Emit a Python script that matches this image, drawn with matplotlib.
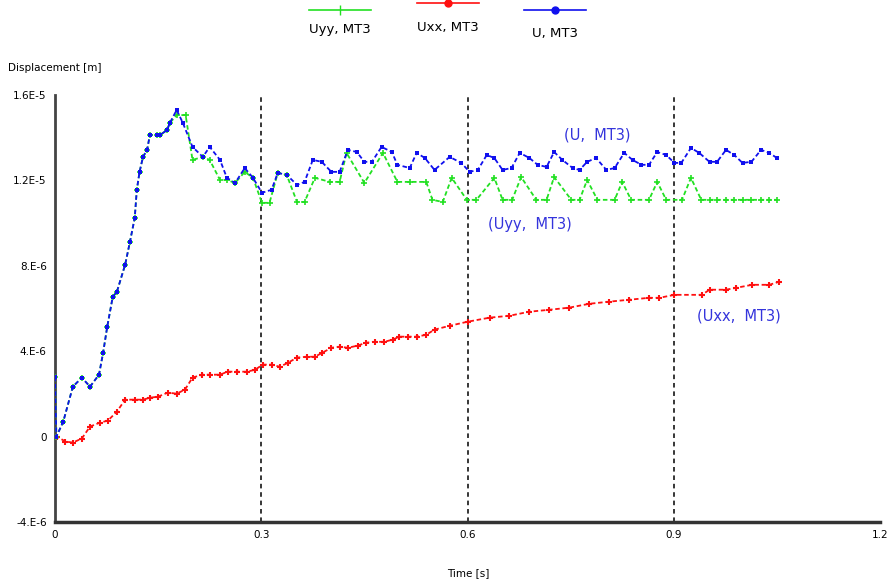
import numpy as np
import matplotlib
matplotlib.use("Agg")
import matplotlib.pyplot as plt
from matplotlib.lines import Line2D

# values in units of 1e-6 m
t_u = [0, 0.002, 0.012, 0.026, 0.039, 0.051, 0.064, 0.070, 0.076, 0.084, 0.090, 0.102, 0.109,
       0.116, 0.119, 0.123, 0.128, 0.134, 0.138, 0.148, 0.153, 0.163, 0.167, 0.177, 0.186,
       0.200, 0.215, 0.225, 0.240, 0.250, 0.262, 0.276, 0.288, 0.301, 0.315, 0.324, 0.337,
       0.352, 0.363, 0.375, 0.388, 0.402, 0.414, 0.426, 0.439, 0.450, 0.461, 0.475, 0.490,
       0.498, 0.516, 0.526, 0.538, 0.552, 0.574, 0.591, 0.603, 0.615, 0.628, 0.639, 0.651,
       0.664, 0.676, 0.690, 0.702, 0.715, 0.726, 0.738, 0.753, 0.763, 0.774, 0.787, 0.802,
       0.814, 0.828, 0.840, 0.853, 0.864, 0.876, 0.889, 0.901, 0.911, 0.925, 0.937, 0.952,
       0.963, 0.976, 0.988, 1.000, 1.013, 1.027, 1.039, 1.050]
u = [2.8, 0.0, 0.70, 2.34, 2.76, 2.34, 2.90, 3.93, 5.15, 6.55, 6.78, 8.05, 9.12,
     10.25, 11.56, 12.40, 13.10, 13.43, 14.13, 14.13, 14.13, 14.36, 14.69, 15.30, 14.69,
     13.57, 13.10, 13.57, 12.96, 12.12, 11.88, 12.58, 12.12, 11.42, 11.56, 12.35, 12.26,
     11.79, 11.93, 12.96, 12.87, 12.40, 12.40, 13.43, 13.33, 12.87, 12.87, 13.57, 13.33,
     12.73, 12.58, 13.29, 13.05, 12.49, 13.10, 12.82, 12.40, 12.49, 13.19, 13.05, 12.49,
     12.58, 13.29, 13.05, 12.73, 12.63, 13.33, 12.96, 12.58, 12.49, 12.87, 13.05, 12.49,
     12.58, 13.29, 12.96, 12.73, 12.73, 13.33, 13.19, 12.82, 12.82, 13.52, 13.29, 12.87,
     12.87, 13.43, 13.19, 12.82, 12.87, 13.43, 13.29, 13.05]

t_uyy = [0, 0.002, 0.012, 0.026, 0.039, 0.051, 0.064, 0.070, 0.076, 0.084, 0.090, 0.102, 0.109,
         0.116, 0.119, 0.123, 0.128, 0.134, 0.138, 0.148, 0.153, 0.163, 0.167, 0.177, 0.190,
         0.200, 0.215, 0.225, 0.240, 0.250, 0.262, 0.276, 0.288, 0.301, 0.312, 0.324, 0.337,
         0.352, 0.363, 0.378, 0.400, 0.414, 0.424, 0.450, 0.477, 0.498, 0.516, 0.540, 0.549,
         0.564, 0.577, 0.599, 0.613, 0.639, 0.651, 0.665, 0.678, 0.700, 0.715, 0.726, 0.751,
         0.763, 0.774, 0.789, 0.814, 0.825, 0.838, 0.864, 0.876, 0.889, 0.912, 0.925, 0.940,
         0.952, 0.963, 0.976, 0.988, 1.000, 1.013, 1.027, 1.039, 1.050]
uyy = [2.8, 0.0, 0.70, 2.34, 2.76, 2.34, 2.90, 3.93, 5.15, 6.55, 6.78, 8.05, 9.12,
       10.25, 11.56, 12.40, 13.10, 13.43, 14.13, 14.13, 14.13, 14.36, 14.69, 15.06, 15.06,
       12.96, 13.10, 12.96, 12.02, 12.02, 11.88, 12.40, 12.12, 10.95, 10.95, 12.35, 12.26,
       10.99, 10.99, 12.12, 11.93, 11.93, 13.29, 11.88, 13.29, 11.93, 11.93, 11.93, 11.09,
       10.99, 12.12, 11.09, 11.09, 12.12, 11.09, 11.09, 12.16, 11.09, 11.09, 12.16, 11.09,
       11.09, 12.02, 11.09, 11.09, 11.93, 11.09, 11.09, 11.93, 11.09, 11.09, 12.12, 11.09,
       11.09, 11.09, 11.09, 11.09, 11.09, 11.09, 11.09, 11.09, 11.09]

t_uxx = [0, 0.003, 0.015, 0.026, 0.039, 0.051, 0.065, 0.077, 0.090, 0.102, 0.116, 0.128,
         0.138, 0.150, 0.164, 0.177, 0.189, 0.200, 0.214, 0.225, 0.240, 0.251, 0.264, 0.279,
         0.291, 0.302, 0.315, 0.327, 0.339, 0.352, 0.366, 0.378, 0.389, 0.402, 0.414, 0.426,
         0.440, 0.453, 0.465, 0.479, 0.491, 0.501, 0.513, 0.526, 0.540, 0.552, 0.574, 0.600,
         0.632, 0.661, 0.690, 0.719, 0.748, 0.777, 0.806, 0.835, 0.864, 0.879, 0.901, 0.941,
         0.952, 0.976, 0.991, 1.014, 1.039, 1.053]
uxx = [0.0, 0.0, -0.23, -0.28, -0.09, 0.47, 0.65, 0.75, 1.17, 1.73, 1.73, 1.73,
       1.82, 1.87, 2.06, 2.01, 2.20, 2.76, 2.90, 2.90, 2.90, 3.04, 3.04, 3.04,
       3.13, 3.37, 3.37, 3.27, 3.46, 3.70, 3.74, 3.74, 3.93, 4.16, 4.21, 4.16,
       4.26, 4.40, 4.44, 4.44, 4.54, 4.68, 4.68, 4.68, 4.77, 5.01, 5.19, 5.38,
       5.57, 5.66, 5.85, 5.94, 6.04, 6.22, 6.32, 6.41, 6.50, 6.50, 6.64, 6.64,
       6.88, 6.88, 6.97, 7.11, 7.11, 7.25]

y_ticks = [-4, 0, 4, 8, 12, 16]
y_labels = ["-4.E-6", "0", "4.E-6", "8.E-6", "1.2E-5", "1.6E-5"]
x_ticks = [0, 0.3, 0.6, 0.9, 1.2]
x_labels = ["0", "0.3", "0.6", "0.9", "1.2"]
guides = [0.3, 0.6, 0.9]

fig = plt.figure(figsize=(8.92, 5.87), dpi=100)
ax = fig.add_axes([55 / 892, 65 / 587, 825 / 892, 427 / 587])

dash = (0, (2.5, 1.5))
for g in guides:
    ax.axvline(g, color="black", lw=1.1, ls=(0, (3, 2.5)), zorder=1)

ax.plot(t_uxx, uxx, color="#ff1010", ls=dash, lw=1.3, marker="+", ms=5, mew=1.5, zorder=3)
ax.plot(t_uyy, uyy, color="#22e022", ls=dash, lw=1.3, marker="+", ms=5, mew=1.2, zorder=3)
ax.plot(t_u, u, color="#1010ee", ls=dash, lw=1.3, marker="s", ms=3.5, mew=0, zorder=4)

txt = dict(color="#3434dc", fontsize=10.5, ha="center", va="center")
ax.text(0.789, 14.13, "(U,  MT3)", **txt)
ax.text(0.690, 9.92, "(Uyy,  MT3)", **txt)
ax.text(0.995, 5.66, "(Uxx,  MT3)", **txt)

ax.set_xlim(0, 1.2)
ax.set_ylim(-4, 16)
ax.set_xticks(x_ticks)
ax.set_xticklabels(x_labels)
ax.set_yticks(y_ticks)
ax.set_yticklabels(y_labels)
ax.tick_params(labelsize=7.5, length=0, pad=6)
for s in ["top", "right"]:
    ax.spines[s].set_visible(False)
ax.spines["left"].set_linewidth(2)
ax.spines["left"].set_color("#444444")
ax.spines["bottom"].set_linewidth(2.5)
ax.spines["bottom"].set_color("#333333")

fig.text(8 / 892, 1 - 68 / 587, "Displacement [m]", fontsize=7.5, va="center", ha="left")
fig.text(468 / 892, 1 - 573 / 587, "Time [s]", fontsize=7.5, va="center", ha="center")

# legend drawn across the top
items = [("Uyy, MT3", "#22e022", "|", 340, 10, 30),
         ("Uxx, MT3", "#ff1010", "o", 448, 3, 27),
         ("U, MT3", "#1010ee", "o", 555, 10, 33)]
for lab, col, mk, cx, ly, ty in items:
    fig.add_artist(Line2D([(cx - 31) / 892, (cx + 31) / 892], [1 - ly / 587, 1 - ly / 587],
                          color=col, lw=1.2, transform=fig.transFigure))
    fig.add_artist(Line2D([cx / 892], [1 - ly / 587], color=col, marker=mk,
                          ms=5 if mk == "o" else 7, transform=fig.transFigure))
    fig.text(cx / 892, 1 - ty / 587, lab, fontsize=9.5, ha="center", va="center")

fig.savefig("out.png", dpi=100)
